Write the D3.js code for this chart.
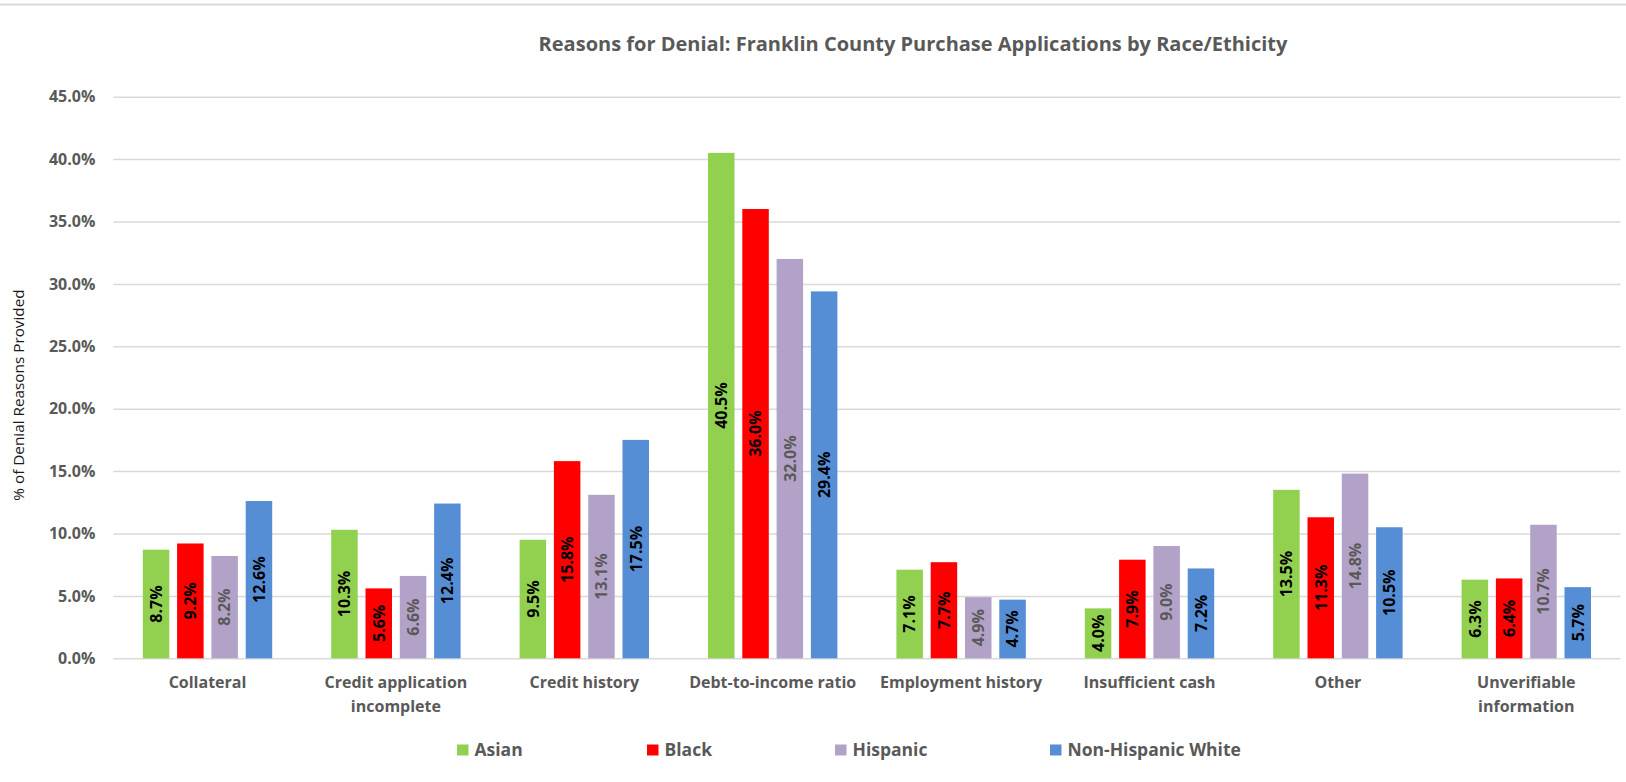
<!DOCTYPE html>
<html>
<head>
<meta charset="utf-8">
<script src="https://cdn.jsdelivr.net/npm/d3@7"></script>
<style>
  html, body { margin: 0; padding: 0; background: #fff; }
  svg { display: block; font-family: "Open Sans", Lato, sans-serif; }
</style>
</head>
<body>
<svg id="chart" width="1626" height="782"></svg>
<script>
// Denial reasons, in percent of all reasons given, per race/ethnicity group
const categories = [
  "Collateral",
  "Credit application incomplete",
  "Credit history",
  "Debt-to-income ratio",
  "Employment history",
  "Insufficient cash",
  "Other",
  "Unverifiable information"
];
const categoryLines = [
  ["Collateral"],
  ["Credit application", "incomplete"],
  ["Credit history"],
  ["Debt-to-income ratio"],
  ["Employment history"],
  ["Insufficient cash"],
  ["Other"],
  ["Unverifiable", "information"]
];
const seriesNames = ["Asian", "Black", "Hispanic", "Non-Hispanic White"];
const asian    = [8.7, 10.3, 9.5, 40.5, 7.1, 4.0, 13.5, 6.3];
const black    = [9.2, 5.6, 15.8, 36.0, 7.7, 7.9, 11.3, 6.4];
const hispanic = [8.2, 6.6, 13.1, 32.0, 4.9, 9.0, 14.8, 10.7];
const nhWhite  = [12.6, 12.4, 17.5, 29.4, 4.7, 7.2, 10.5, 5.7];
const yTicks = [0, 5, 10, 15, 20, 25, 30, 35, 40, 45];

const seriesValues = [asian, black, hispanic, nhWhite];
const colors = ["#92d050", "#ff0000", "#b3a2c7", "#558ed5"];
const labelColors = ["#000000", "#000000", "#595959", "#000000"];

const svg = d3.select("#chart");
const plotLeft = 113.3, plotRight = 1620.5, plotTop = 96.7, plotBottom = 658.3;

// Chart frame line along the top edge
svg.append("line")
  .attr("x1", 0).attr("x2", 1626).attr("y1", 4.5).attr("y2", 4.5)
  .attr("stroke", "#d9d9d9").attr("stroke-width", 2);

const y = d3.scaleLinear().domain([0, 45]).range([plotBottom, plotTop]);
const x0 = d3.scaleBand().domain(categories).range([plotLeft, plotRight]).padding(0);
const step = 34.3, barW = 26.5;
const groupW = step * (seriesNames.length - 1) + barW;
const x1 = d3.scaleBand().domain(seriesNames)
  .range([(x0.bandwidth() - groupW) / 2, (x0.bandwidth() + groupW) / 2])
  .paddingInner((step - barW) / step).paddingOuter(0);

// Gridlines and y tick labels
const yAxis = d3.axisLeft(y).tickValues(yTicks)
  .tickSize(-(plotRight - plotLeft)).tickPadding(18)
  .tickFormat(d => d.toFixed(1) + "%");
const ga = svg.append("g").attr("transform", `translate(${plotLeft},0)`).call(yAxis);
ga.select(".domain").remove();
ga.selectAll(".tick line").attr("stroke", "#d9d9d9").attr("stroke-width", 1.5);
ga.selectAll(".tick text")
  .attr("fill", "#595959").attr("font-size", 16).attr("font-weight", "bold")
  .attr("font-family", "'Open Sans', sans-serif");

// Bars
const rows = categories.map((c, i) => ({
  cat: c,
  vals: seriesNames.map((s, j) => ({ s, j, v: seriesValues[j][i] }))
}));
const groups = svg.append("g").selectAll("g").data(rows).join("g")
  .attr("transform", d => `translate(${x0(d.cat)},0)`);
groups.selectAll("rect").data(d => d.vals).join("rect")
  .attr("x", d => x1(d.s))
  .attr("width", x1.bandwidth())
  .attr("y", d => y(d.v))
  .attr("height", d => y(0) - y(d.v))
  .attr("fill", d => colors[d.j]);

// Value labels, rotated and centred in each bar
groups.selectAll("text.val").data(d => d.vals).join("text")
  .attr("class", "val")
  .attr("transform", d => {
    const cx = x1(d.s) + x1.bandwidth() / 2;
    const cy = (y(d.v) + y(0)) / 2;
    return `translate(${cx},${cy}) rotate(-90)`;
  })
  .attr("text-anchor", "middle").attr("dy", "0.36em")
  .attr("font-size", 16).attr("font-weight", "bold")
  .attr("fill", d => labelColors[d.j])
  .text(d => d.v.toFixed(1) + "%");

// Category labels
const xl = svg.append("g").selectAll("text").data(categories).join("text")
  .attr("x", d => x0(d) + x0.bandwidth() / 2)
  .attr("y", 688)
  .attr("text-anchor", "middle")
  .attr("font-size", 16).attr("font-weight", "bold").attr("fill", "#595959");
xl.selectAll("tspan").data((d, i) => categoryLines[i]).join("tspan")
  .attr("x", function () { return d3.select(this.parentNode).attr("x"); })
  .attr("dy", (d, i) => i === 0 ? 0 : 24)
  .text(d => d);

// Title
svg.append("text")
  .attr("x", 913).attr("y", 51)
  .attr("text-anchor", "middle")
  .attr("font-size", 20).attr("font-weight", "bold").attr("fill", "#595959")
  .text("Reasons for Denial: Franklin County Purchase Applications by Race/Ethicity");

// Y axis title
svg.append("text")
  .attr("transform", "translate(24,395) rotate(-90)")
  .attr("text-anchor", "middle")
  .attr("font-size", 15.3).attr("fill", "#1a1a1a")
  .text("% of Denial Reasons Provided");

// Legend
const legendX = [457, 647, 835, 1050];
const lg = svg.append("g").selectAll("g").data(seriesNames).join("g")
  .attr("transform", (d, i) => `translate(${legendX[i]},744.5)`);
lg.append("rect").attr("width", 11.5).attr("height", 11).attr("fill", (d, i) => colors[i]);
lg.append("text").attr("x", 17.5).attr("y", 11.5)
  .attr("font-size", 17.5).attr("font-weight", "bold").attr("fill", "#595959")
  .text(d => d);
</script>
</body>
</html>
